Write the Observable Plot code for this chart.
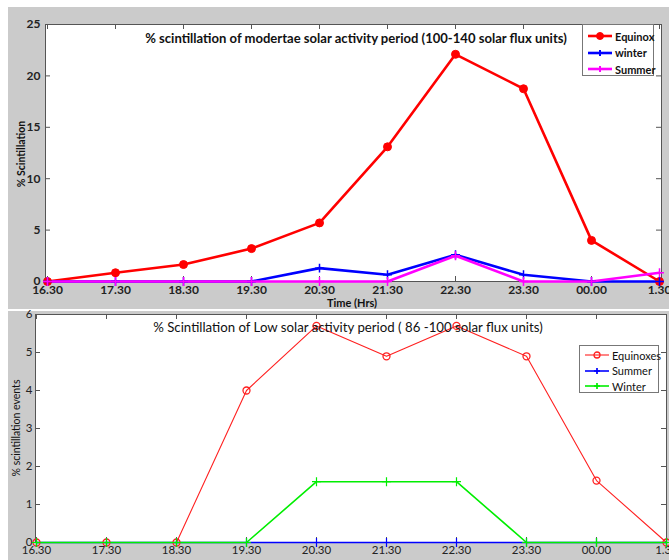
<!DOCTYPE html>
<html>
<head>
<meta charset="utf-8">
<script src="https://cdn.jsdelivr.net/npm/d3@7"></script>
<script src="https://cdn.jsdelivr.net/npm/@observablehq/plot@0.6"></script>
<style>
  html, body { margin: 0; padding: 0; background: #fff; overflow: hidden; }
  #root { position: relative; width: 669px; height: 560px; overflow: hidden; }
  .gray { position: absolute; background: #cbcbcb; }
  .abs { position: absolute; white-space: nowrap; }
  .ff { font-family: Lato, "Open Sans", sans-serif; }
  .legend { position: absolute; background: #fff; border: 1px solid #777; box-sizing: border-box; }
  .legend .row { position: absolute; left: 0; height: 14px; display: flex; align-items: center; }
  .legend svg { display: block; }
</style>
</head>
<body>
<div id="root">
  <div class="gray" style="left:8px; top:7px; width:661px; height:302px;"></div>
  <div class="gray" style="left:8px; top:311px; width:661px; height:249px;"></div>
  <div id="p1" class="abs" style="left:0; top:0;"></div>
  <div id="p2" class="abs" style="left:0; top:300px;"></div>
</div>
<script>
// ---- data ----
const times = ["16.30","17.30","18.30","19.30","20.30","21.30","22.30","23.30","00.00","1.30"];

const modEquinox = [0, 0.85, 1.65, 3.2, 5.7, 13.1, 22.1, 18.75, 4.0, 0];
const modWinter  = [0, 0, 0, 0, 1.3, 0.65, 2.6, 0.65, 0, 0];
const modSummer  = [0, 0, 0, 0, 0, 0, 2.5, 0, 0, 0.85];

const lowEquinoxes = [0, 0, 0, 4.0, 5.7, 4.9, 5.7, 4.9, 1.63, 0];
const lowSummer    = [0, 0, 0, 0, 0, 0, 0, 0, 0, 0];
const lowWinter    = [0, 0, 0, 0, 1.6, 1.6, 1.6, 0, 0, 0];

const modYTicks = [0, 5, 10, 15, 20, 25];
const lowYTicks = [0, 1, 2, 3, 4, 5, 6];

const modTitle = "% scintillation of modertae solar activity period (100-140 solar flux units)";
const lowTitle = "% Scintillation of Low solar activity period ( 86 -100 solar flux units)";

const FONT = 'Lato, "Open Sans", sans-serif';

function rows(values, series) {
  return values.map((v, i) => ({time: times[i], value: v, series}));
}

function panel(cfg) {
  const W = 669;
  const ph = cfg.height - cfg.mt - cfg.mb;
  const pw = W - cfg.ml - cfg.mr;
  const marks = [
    Plot.frame({fill: "white", stroke: null}),
    Plot.ruleX(times, {x: d => d, insetTop: ph - 5, stroke: "#555"}),
    Plot.ruleX(times, {x: d => d, insetBottom: ph - 5, stroke: "#555"}),
    Plot.ruleY(cfg.yTicks, {y: d => d, insetRight: pw - 5, stroke: "#555"}),
    Plot.ruleY(cfg.yTicks, {y: d => d, insetLeft: pw - 5, stroke: "#555"}),
    Plot.axisX({anchor: "bottom", tickSize: 0, tickPadding: cfg.xPad, fontSize: cfg.tickFont,
                fontWeight: cfg.weight, fill: "#222", label: null}),
    Plot.axisY({anchor: "left", ticks: cfg.yTicks, tickFormat: d3.format("d"), tickSize: 0, tickPadding: cfg.yPad,
                fontSize: cfg.tickFont, fontWeight: cfg.weight, fill: "#222", label: null}),
    Plot.frame({stroke: "#555", strokeWidth: 1})
  ];
  for (const s of cfg.series) {
    marks.push(Plot.line(s.data, {x: "time", y: "value", stroke: s.color, strokeWidth: s.width}));
  }
  for (const s of cfg.series) {
    marks.push(Plot.dot(s.data, {x: "time", y: "value", r: s.r, symbol: s.symbol,
      fill: s.fill ? s.color : "none", stroke: s.color, strokeWidth: s.mw}));
  }
  return Plot.plot({
    width: W, height: cfg.height,
    marginLeft: cfg.ml, marginRight: cfg.mr, marginTop: cfg.mt, marginBottom: cfg.mb,
    style: {background: "transparent", fontFamily: FONT, overflow: "visible"},
    x: {type: "point", domain: times, padding: 0},
    y: {domain: cfg.yDomain},
    marks
  });
}

const topSeries = [
  {data: rows(modEquinox, "Equinox"), color: "#ff0000", width: 2.6, r: 4, symbol: "circle", fill: true, mw: 1},
  {data: rows(modWinter, "winter"), color: "#0000ff", width: 2.6, r: 3, symbol: "plus", fill: false, mw: 1.5},
  {data: rows(modSummer, "Summer"), color: "#ff00ff", width: 2.6, r: 3, symbol: "plus", fill: false, mw: 1.5}
];
const lowSeries = [
  {data: rows(lowEquinoxes, "Equinoxes"), color: "#ff2020", width: 1.1, r: 3.5, symbol: "circle", fill: false, mw: 1.3},
  {data: rows(lowSummer, "Summer"), color: "#0000ff", width: 1.6, r: 3, symbol: "plus", fill: false, mw: 1.2},
  {data: rows(lowWinter, "Winter"), color: "#00ee00", width: 1.6, r: 3, symbol: "plus", fill: false, mw: 1.2}
];

document.getElementById("p1").appendChild(panel({
  height: 310, ml: 45, mr: 8, mt: 24, mb: 29, yDomain: [0, 25], yTicks: modYTicks,
  series: topSeries, tickFont: 12, weight: "bold", xPad: 4, yPad: 5
}));
document.getElementById("p2").appendChild(panel({
  height: 260, ml: 35, mr: 3, mt: 14, mb: 18, yDomain: [0, 6], yTicks: lowYTicks,
  series: lowSeries, tickFont: 11.5, weight: "normal", xPad: 3, yPad: 3
}));

// ---- text & legends ----
const root = document.getElementById("root");
function addText(txt, x, y, opts) {
  const d = document.createElement("div");
  d.className = "abs ff";
  d.textContent = txt;
  d.style.left = x + "px";
  d.style.top = y + "px";
  d.style.fontSize = opts.size + "px";
  d.style.fontWeight = opts.weight || "normal";
  d.style.color = opts.color || "#111";
  root.appendChild(d);
  if (opts.fit) {
    const w = d.getBoundingClientRect().width;
    d.style.fontSize = (opts.size * opts.fit / w) + "px";
  }
  d.style.transform = "translate(-50%,-50%)" + (opts.rotate ? " rotate(-90deg)" : "");
}
addText(modTitle, 356, 38, {size: 14, weight: "bold", fit: 422});
addText(lowTitle, 348, 327, {size: 14, fit: 390});
addText("Time (Hrs)", 352, 302, {size: 11, weight: "bold"});
addText("Time (Hrs)", 352, 564, {size: 11, weight: "bold"});
addText("% Scintillation", 21, 154, {size: 10.5, weight: "bold", rotate: true});
addText("% scintillation events", 16, 428, {size: 10.5, rotate: true});

function addLegend(series, box, weight) {
  const lg = document.createElement("div");
  lg.className = "legend ff";
  Object.assign(lg.style, {left: box.x + "px", top: box.y + "px", width: box.w + "px", height: box.h + "px"});
  series.forEach((s, i) => {
    const row = document.createElement("div");
    row.className = "row";
    row.style.top = (box.rowTop + i * box.step - 7) + "px";
    row.style.left = "4px";
    const sw = d3.create("svg").attr("width", 26).attr("height", 14);
    sw.append("line").attr("x1", 1).attr("x2", 25).attr("y1", 7).attr("y2", 7)
      .attr("stroke", s.color).attr("stroke-width", s.width);
    if (s.symbol === "circle") {
      sw.append("circle").attr("cx", 13).attr("cy", 7).attr("r", s.r - 0.5)
        .attr("fill", s.fill ? s.color : "none").attr("stroke", s.color).attr("stroke-width", s.mw);
    } else {
      sw.append("path").attr("d", "M10,7H16M13,4V10").attr("stroke", s.color).attr("stroke-width", s.mw + 0.5);
    }
    row.appendChild(sw.node());
    const t = document.createElement("span");
    t.textContent = s.data[0].series;
    t.style.fontSize = box.font + "px";
    t.style.fontWeight = weight;
    t.style.color = "#111";
    t.style.marginLeft = "2px";
    row.appendChild(t);
    lg.appendChild(row);
  });
  root.appendChild(lg);
}
addLegend(topSeries, {x: 582, y: 24, w: 72, h: 52, rowTop: 11, step: 16.5, font: 11}, "bold");
addLegend(lowSeries, {x: 579, y: 345, w: 80, h: 48, rowTop: 9, step: 15.5, font: 11}, "normal");
</script>
</body>
</html>
